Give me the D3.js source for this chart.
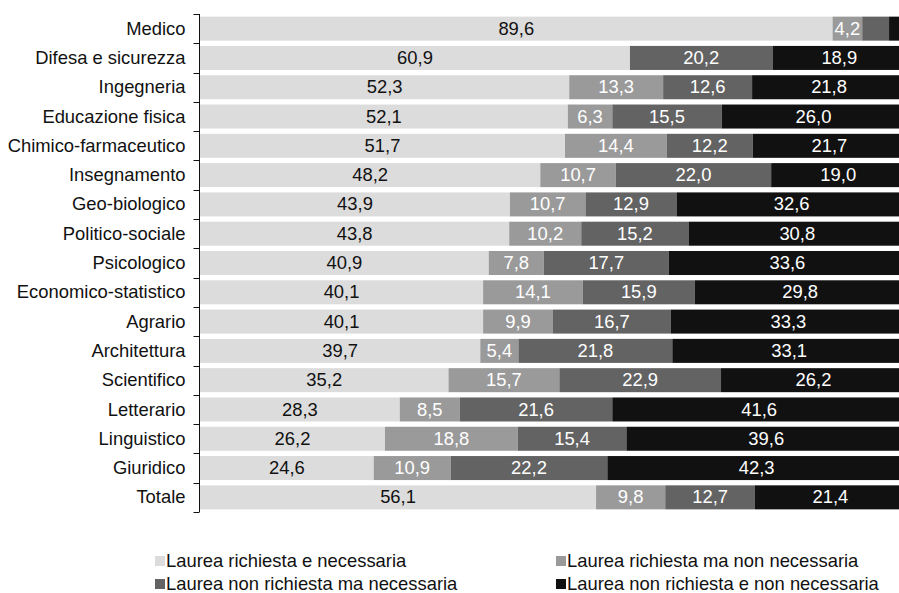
<!DOCTYPE html>
<html>
<head>
<meta charset="utf-8">
<script src="https://cdn.jsdelivr.net/npm/d3@7"></script>
<style>
  body { margin: 0; background: #fff; }
  svg { display: block; font-family: "Liberation Sans", Arial, sans-serif; }
</style>
</head>
<body>
<div class="graph-pane"></div>
<script>
// categories top to bottom
var categories = ["Medico", "Difesa e sicurezza", "Ingegneria", "Educazione fisica",
  "Chimico-farmaceutico", "Insegnamento", "Geo-biologico", "Politico-sociale",
  "Psicologico", "Economico-statistico", "Agrario", "Architettura", "Scientifico",
  "Letterario", "Linguistico", "Giuridico", "Totale"];

var seriesNames = ["Laurea richiesta e necessaria", "Laurea richiesta ma non necessaria",
  "Laurea non richiesta ma necessaria", "Laurea non richiesta e non necessaria"];

var richiestaNecessaria = [89.6, 60.9, 52.3, 52.1, 51.7, 48.2, 43.9, 43.8, 40.9, 40.1, 40.1, 39.7, 35.2, 28.3, 26.2, 24.6, 56.1];
var richiestaNonNecessaria = [4.2, 0, 13.3, 6.3, 14.4, 10.7, 10.7, 10.2, 7.8, 14.1, 9.9, 5.4, 15.7, 8.5, 18.8, 10.9, 9.8];
var nonRichiestaNecessaria = [3.8, 20.2, 12.6, 15.5, 12.2, 22.0, 12.9, 15.2, 17.7, 15.9, 16.7, 21.8, 22.9, 21.6, 15.4, 22.2, 12.7];
var nonRichiestaNonNecessaria = [2.4, 18.9, 21.8, 26.0, 21.7, 19.0, 32.6, 30.8, 33.6, 29.8, 33.3, 33.1, 26.2, 41.6, 39.6, 42.3, 21.4];

var colors = ["#dcdcdc", "#9a9a9a", "#636363", "#111111"];
var textColors = ["#111", "#fff", "#fff", "#fff"];

var width = 899, height = 593;
var fontSize = 18.4;
var fmt = function(v) { return v.toFixed(1).replace(".", ","); };

var rows = categories.map(function(c, i) {
  return {
    cat: c,
    s0: richiestaNecessaria[i],
    s1: richiestaNonNecessaria[i],
    s2: nonRichiestaNecessaria[i],
    s3: nonRichiestaNonNecessaria[i]
  };
});
var keys = ["s0", "s1", "s2", "s3"];
var stacked = d3.stack().keys(keys)(rows);

//x scale runs past the right edge, the original picture is cropped there
var xScale = d3.scaleLinear().domain([0, 100]).range([200, 906]);
var yScale = d3.scaleBand().domain(categories).range([14, 512]).paddingInner(0.18).paddingOuter(0.09);

var svg = d3.select('.graph-pane')
  .append('svg')
  .attr('width', width)
  .attr('height', height);

var layers = svg.append('g')
  .selectAll('g')
  .data(stacked)
  .join('g')
  .attr('fill', function(d, i) { return colors[i]; });

layers.selectAll('rect')
  .data(function(d) { return d; })
  .join('rect')
  .attr('x', function(d) { return xScale(d[0]); })
  .attr('y', function(d) { return yScale(d.data.cat); })
  .attr('width', function(d) { return xScale(d[1]) - xScale(d[0]); })
  .attr('height', yScale.bandwidth());

// value labels, centred in each segment
layers.each(function(layer, li) {
  d3.select(this).selectAll('text')
    .data(layer.filter(function(d) { return d[1] - d[0] >= 4; }))
    .join('text')
    .attr('x', function(d) { return (xScale(d[0]) + xScale(d[1])) / 2; })
    .attr('y', function(d) { return yScale(d.data.cat) + yScale.bandwidth() / 2; })
    .attr('dy', '0.33em')
    .attr('text-anchor', 'middle')
    .attr('font-size', fontSize)
    .attr('fill', textColors[li])
    .text(function(d) { return fmt(d[1] - d[0]); });
});

// category axis
var yAxis = d3.axisLeft(yScale).tickSize(6).tickSizeOuter(0).tickPadding(8);
var axisG = svg.append('g')
  .attr('transform', 'translate(199.5,0)')
  .call(yAxis);
axisG.select('.domain').attr('stroke', '#111');
axisG.selectAll('.tick line').remove();
axisG.selectAll('.tick text')
  .attr('font-size', fontSize)
  .attr('font-family', '"Liberation Sans", Arial, sans-serif')
  .attr('fill', '#111')
  .attr('dy', '0.33em')
  .attr('x', -14);
// ticks sit on band boundaries, not band centres
var boundaries = categories.map(function(c) { return yScale(c) - yScale.step() * yScale.paddingInner() / 2; });
boundaries.push(yScale.range()[1]);
axisG.selectAll('.bound')
  .data(boundaries)
  .join('line')
  .attr('class', 'bound')
  .attr('x1', -6).attr('x2', 0)
  .attr('y1', function(d) { return Math.round(d) + 0.5; })
  .attr('y2', function(d) { return Math.round(d) + 0.5; })
  .attr('stroke', '#111');
axisG.select('.domain').attr('d', 'M0,' + yScale.range()[0] + 'V' + yScale.range()[1]);

// legend
var legendPos = [[155, 556], [556, 556], [155, 579], [556, 579]];
var legend = svg.append('g')
  .selectAll('g')
  .data(seriesNames)
  .join('g')
  .attr('transform', function(d, i) { return 'translate(' + legendPos[i][0] + ',' + legendPos[i][1] + ')'; });
legend.append('rect')
  .attr('width', 10).attr('height', 10)
  .attr('fill', function(d, i) { return colors[i]; });
legend.append('text')
  .attr('x', 11).attr('y', 10.5)
  .attr('font-size', fontSize)
  .attr('fill', '#111')
  .text(function(d) { return d; });
</script>
</body>
</html>
